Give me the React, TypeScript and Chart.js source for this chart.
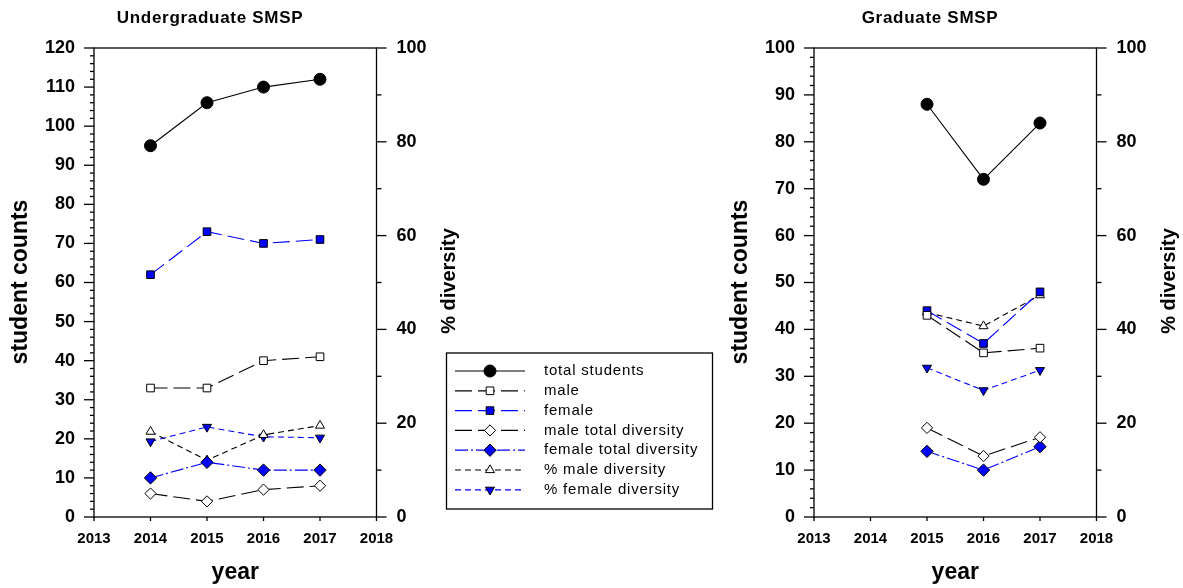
import React, { useEffect, useRef } from 'react';
import { Chart, registerables } from 'chart.js';

Chart.register(...registerables);

// ---------- data ----------
const seriesLabels = [
  'total students',
  'male',
  'female',
  'male total diversity',
  'female total diversity',
  '% male diversity',
  '% female diversity',
];

const ugYears = [2014, 2015, 2016, 2017];
const ugTotal = [95, 106, 110, 112];
const ugMale = [33, 33, 40, 41];
const ugFemale = [62, 73, 70, 71];
const ugMaleDiv = [6, 4, 7, 8];
const ugFemaleDiv = [10, 14, 12, 12];
const ugPctMaleDiv = [18.2, 12.1, 17.5, 19.5];
const ugPctFemaleDiv = [16.1, 19.2, 17.1, 16.9];

const grYears = [2015, 2016, 2017];
const grTotal = [88, 72, 84];
const grMale = [43, 35, 36];
const grFemale = [44, 37, 48];
const grMaleDiv = [19, 13, 17];
const grFemaleDiv = [14, 10, 15];
const grPctMaleDiv = [43.6, 40.7, 47.3];
const grPctFemaleDiv = [31.8, 27, 31.3];

const xMin = 2013;
const xMax = 2018;
const ugCountMax = 120;
const grCountMax = 100;
const pctMax = 100;

// ---------- styles ----------
const BLUE = '#0000ff';
const FONT = '"Liberation Sans", Arial, Helvetica, sans-serif';
const seriesStyles = [
  { color: '#000', dash: [] as number[], point: 'circle', radius: 6, fill: '#000', rot: 0 },
  { color: '#000', dash: [17, 6], point: 'rect', radius: 5.4, fill: '#fff', rot: 0 },
  { color: BLUE, dash: [17, 6], point: 'rect', radius: 5.4, fill: BLUE, rot: 0 },
  { color: '#000', dash: [17, 6], point: 'rectRot', radius: 5.6, fill: '#fff', rot: 0 },
  { color: BLUE, dash: [13, 3, 2, 3], point: 'rectRot', radius: 6.2, fill: BLUE, rot: 0 },
  { color: '#000', dash: [6, 4], point: 'triangle', radius: 5.2, fill: '#fff', rot: 0 },
  { color: BLUE, dash: [6, 4], point: 'triangle', radius: 5.2, fill: BLUE, rot: 180 },
];

function drawMarker(ctx: CanvasRenderingContext2D, style: string, x: number, y: number, r: number, rot: number) {
  ctx.beginPath();
  if (style === 'circle') {
    ctx.arc(x, y, r, 0, Math.PI * 2);
  } else if (style === 'rect') {
    const s = Math.SQRT1_2 * r;
    ctx.rect(x - s, y - s, 2 * s, 2 * s);
  } else if (style === 'rectRot') {
    ctx.moveTo(x - r, y);
    ctx.lineTo(x, y - r);
    ctx.lineTo(x + r, y);
    ctx.lineTo(x, y + r);
    ctx.closePath();
  } else if (style === 'triangle') {
    let a = (rot * Math.PI) / 180;
    ctx.moveTo(x + Math.sin(a) * r, y - Math.cos(a) * r);
    a += (2 * Math.PI) / 3;
    ctx.lineTo(x + Math.sin(a) * r, y - Math.cos(a) * r);
    a += (2 * Math.PI) / 3;
    ctx.lineTo(x + Math.sin(a) * r, y - Math.cos(a) * r);
    ctx.closePath();
  }
}

const decorPlugin = {
  id: 'decor',
  afterDraw(chart: any, _args: any, opts: any) {
    const { ctx, chartArea: a, scales } = chart;
    ctx.save();
    ctx.strokeStyle = '#000';
    ctx.lineWidth = 1.3;
    ctx.setLineDash([]);
    ctx.strokeRect(a.left, a.top, a.right - a.left, a.bottom - a.top);

    // left axis ticks
    const y = scales.y;
    for (let v = y.min; v <= y.max + 0.001; v += 2) {
      const py = y.getPixelForValue(v);
      const len = Math.round(v) % 10 === 0 ? 10 : 4;
      ctx.beginPath();
      ctx.moveTo(a.left - len, py);
      ctx.lineTo(a.left, py);
      ctx.stroke();
    }
    // right axis ticks
    const y2 = scales.y2;
    for (let v = y2.min; v <= y2.max + 0.001; v += 10) {
      const py = y2.getPixelForValue(v);
      const len = Math.round(v) % 20 === 0 ? 10 : 5;
      ctx.beginPath();
      ctx.moveTo(a.right, py);
      ctx.lineTo(a.right + len, py);
      ctx.stroke();
    }
    // x ticks
    const x = scales.x;
    for (let v = x.min; v <= x.max + 0.001; v += 1) {
      const px = x.getPixelForValue(v);
      ctx.beginPath();
      ctx.moveTo(px, a.bottom);
      ctx.lineTo(px, a.bottom + 4);
      ctx.stroke();
    }

    ctx.fillStyle = '#000';
    // title
    ctx.font = `bold 17px ${FONT}`;
    (ctx as any).letterSpacing = '0.7px';
    ctx.textAlign = 'center';
    ctx.textBaseline = 'middle';
    ctx.fillText(opts.title, 210, 18);
    (ctx as any).letterSpacing = '0px';

    // x title
    ctx.font = `bold 23px ${FONT}`;
    ctx.fillText('year', (a.left + a.right) / 2, 573);

    // left title
    ctx.save();
    ctx.translate(20.5, 282);
    ctx.rotate(-Math.PI / 2);
    ctx.font = `bold 23px ${FONT}`;
    ctx.fillText('student counts', 0, 0);
    ctx.restore();

    // right title
    ctx.save();
    ctx.translate(a.right + 73, 281);
    ctx.rotate(-Math.PI / 2);
    ctx.font = `bold 20px ${FONT}`;
    ctx.fillText('% diversity', 0, 0);
    ctx.restore();

    if (opts.legend) {
      const lx = 446.5, ly = 353, lw = 266, lh = 156;
      ctx.lineWidth = 1.3;
      ctx.strokeRect(lx, ly, lw, lh);
      chart.data.datasets.forEach((ds: any, i: number) => {
        const st = seriesStyles[i];
        const ry = 371 + i * 19.8;
        ctx.save();
        ctx.strokeStyle = st.color;
        ctx.lineWidth = 1.2;
        ctx.setLineDash(st.dash);
        ctx.beginPath();
        ctx.moveTo(455, ry);
        ctx.lineTo(525, ry);
        ctx.stroke();
        ctx.setLineDash([]);
        ctx.fillStyle = st.fill;
        ctx.strokeStyle = '#000';
        ctx.lineWidth = 1;
        drawMarker(ctx, st.point, 490, ry, st.radius, st.rot);
        ctx.fill();
        ctx.stroke();
        ctx.restore();
        ctx.font = `15px ${FONT}`;
        (ctx as any).letterSpacing = '0.8px';
        ctx.textAlign = 'left';
        ctx.textBaseline = 'middle';
        ctx.fillStyle = '#000';
        ctx.fillText(ds.label, 544, ry);
        (ctx as any).letterSpacing = '0px';
      });
    }
    ctx.restore();
  },
};

function toPoints(xs: number[], ys: number[]) {
  return xs.map((x, i) => ({ x, y: ys[i] }));
}

function buildConfig(
  years: number[],
  series: number[][],
  countMax: number,
  title: string,
  legend: boolean,
  canvasWidth: number,
): any {
  const datasets = series.map((vals, i) => {
    const st = seriesStyles[i];
    return {
      label: seriesLabels[i],
      data: toPoints(years, vals),
      yAxisID: i >= 5 ? 'y2' : 'y',
      borderColor: st.color,
      borderWidth: 1.1,
      borderDash: st.dash,
      backgroundColor: st.fill,
      pointStyle: st.point,
      pointRadius: st.radius,
      pointRotation: st.rot,
      pointBackgroundColor: st.fill,
      pointBorderColor: '#000',
      pointBorderWidth: 1,
      fill: false,
      tension: 0,
      clip: false,
    };
  });
  const plotRight = 376.5;
  const rightAxisWidth = 60;
  return {
    type: 'line',
    data: { datasets },
    options: {
      responsive: false,
      animation: false,
      devicePixelRatio: 1,
      layout: { padding: { left: 0, top: 48, right: canvasWidth - plotRight - rightAxisWidth, bottom: 0 } },
      plugins: {
        legend: { display: false },
        tooltip: { enabled: false },
        title: { display: false },
        decor: { title, legend },
      },
      scales: {
        x: {
          type: 'linear',
          min: xMin,
          max: xMax,
          grid: { display: false, drawTicks: false },
          border: { display: false },
          ticks: {
            stepSize: 1,
            autoSkip: false,
            maxRotation: 0,
            padding: 13,
            color: '#000',
            font: { family: FONT, size: 15, weight: 'bold' },
            callback: (v: any) => String(v),
          },
          afterFit: (s: any) => {
            s.height = 71;
          },
        },
        y: {
          type: 'linear',
          position: 'left',
          min: 0,
          max: countMax,
          grid: { display: false, drawTicks: false },
          border: { display: false },
          ticks: {
            stepSize: 10,
            padding: 19,
            color: '#000',
            font: { family: FONT, size: 18, weight: 'bold' },
          },
          afterFit: (s: any) => {
            s.width = 94;
          },
        },
        y2: {
          type: 'linear',
          position: 'right',
          min: 0,
          max: pctMax,
          grid: { display: false, drawTicks: false },
          border: { display: false },
          ticks: {
            stepSize: 20,
            padding: 20,
            color: '#000',
            font: { family: FONT, size: 18, weight: 'bold' },
          },
          afterFit: (s: any) => {
            s.width = rightAxisWidth;
          },
        },
      },
    },
    plugins: [decorPlugin],
  };
}

const LEFT_W = 720;
const RIGHT_W = 463;
const H = 588;

export default function App() {
  const leftRef = useRef<HTMLCanvasElement>(null);
  const rightRef = useRef<HTMLCanvasElement>(null);

  useEffect(() => {
    const c1 = new Chart(
      leftRef.current as HTMLCanvasElement,
      buildConfig(
        ugYears,
        [ugTotal, ugMale, ugFemale, ugMaleDiv, ugFemaleDiv, ugPctMaleDiv, ugPctFemaleDiv],
        ugCountMax,
        'Undergraduate SMSP',
        true,
        LEFT_W,
      ),
    );
    const c2 = new Chart(
      rightRef.current as HTMLCanvasElement,
      buildConfig(
        grYears,
        [grTotal, grMale, grFemale, grMaleDiv, grFemaleDiv, grPctMaleDiv, grPctFemaleDiv],
        grCountMax,
        'Graduate SMSP',
        false,
        RIGHT_W,
      ),
    );
    return () => {
      c1.destroy();
      c2.destroy();
    };
  }, []);

  return (
    <div style={{ position: 'fixed', left: 0, top: 0, width: 1183, height: H, background: '#fff' }}>
      <canvas
        ref={leftRef}
        width={LEFT_W}
        height={H}
        style={{ position: 'absolute', left: 0, top: 0, width: LEFT_W, height: H }}
      />
      <canvas
        ref={rightRef}
        width={RIGHT_W}
        height={H}
        style={{ position: 'absolute', left: LEFT_W, top: 0, width: RIGHT_W, height: H }}
      />
    </div>
  );
}
